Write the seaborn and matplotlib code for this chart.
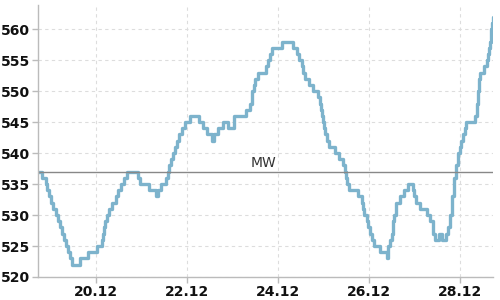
import matplotlib
matplotlib.use("Agg")
import matplotlib.pyplot as plt
import seaborn as sns
import pandas as pd
import numpy as np

# Hours since start of series (start = 18.12 ~17:24) and step values
hours = [0, 2, 4, 5, 6, 7, 8, 9.5, 10.5, 11.5, 12.5, 13.5, 15, 16, 17, 18,
         22, 26.5, 31, 34, 34.5, 35, 35.5, 36.5, 37.5, 39, 41, 42, 44, 45.5,
         47, 53, 54, 58.5, 62, 63.5, 65, 67.5, 68.5, 69, 70, 71, 72.5, 73.5,
         74.5, 76, 77.5, 80, 85, 87, 89, 92, 93, 95, 97.5, 100, 103.5, 109.5,
         112, 113, 114, 114.5, 116, 120.5, 121.5, 122.5, 123.5, 128.5, 134.5,
         136.5, 137.5, 139, 140, 141, 143, 145, 147.5, 149, 149.5, 150, 150.5,
         151, 151.5, 152.5, 153.5, 156.5, 159, 161, 162, 162.5, 163, 164,
         169, 171, 171.5, 172, 173.5, 174, 175, 176, 177, 180.5, 184, 184.5,
         185.5, 186.5, 187.5, 188, 189, 191, 193, 195, 198, 198.5, 199.5,
         201.5, 205, 207, 208.5, 209.5, 211.5, 213, 215, 216.5, 217.5, 218.5,
         219.5, 220.5, 221.5, 222.5, 223, 224, 225, 226, 230.5, 231.5, 232,
         232.5, 233, 235.5, 237, 237.5, 238, 238.5, 239, 239.5, 240]
values = [537, 536, 535, 534, 533, 532, 531, 530, 529, 528, 527, 526, 525,
          524, 523, 522, 523, 524, 525, 526, 527, 528, 529, 530, 531, 532,
          533, 534, 535, 536, 537, 536, 535, 534, 533, 534, 535, 536, 537,
          538, 539, 540, 541, 542, 543, 544, 545, 546, 545, 544, 543, 542,
          543, 544, 545, 544, 546, 547, 548, 550, 551, 552, 553, 554, 555,
          556, 557, 558, 557, 556, 555, 554, 553, 552, 551, 550, 549, 548,
          547, 546, 545, 544, 543, 542, 541, 540, 539, 538, 537, 536, 535,
          534, 533, 532, 531, 530, 529, 528, 527, 526, 525, 524, 523, 525,
          526, 527, 529, 530, 532, 533, 534, 535, 534, 533, 532, 531, 530,
          529, 527, 526, 527, 526, 527, 528, 530, 533, 536, 538, 540, 541,
          542, 543, 544, 545, 546, 548, 550, 552, 553, 554, 555, 556, 557,
          558, 560, 561, 562]

start_day = 18.725  # position of series start, in day units (day-of-December)
mean_value = 537
mean_label = "MW"
tick_days = [20, 22, 24, 26, 28]
tick_labels = ["20.12", "22.12", "24.12", "26.12", "28.12"]
y_ticks = [520, 525, 530, 535, 540, 545, 550, 555, 560]

df = pd.DataFrame({"day": start_day + np.array(hours) / 24.0, "value": values})

sns.set_style("white")
plt.rcParams["font.family"] = ["DejaVu Sans"]

fig = plt.figure(figsize=(5, 3), dpi=100)
ax = fig.add_axes([0.076, 0.0767, 0.91, 0.9066])

ax.grid(True, color="#dddddd", linestyle=(0, (3, 3)), linewidth=0.8)
ax.set_axisbelow(True)

sns.lineplot(data=df, x="day", y="value", ax=ax, drawstyle="steps-post",
             color="#7db3cc", linewidth=2.4, estimator=None, sort=False)

ax.axhline(mean_value, color="#888888", linewidth=1.0)
ax.text(23.69, mean_value + 0.25, mean_label, ha="center", va="bottom",
        fontsize=10, color="#333333")

ax.set_xlim(18.725, 28.725)
ax.set_ylim(520, 563.9)
ax.set_xticks(tick_days)
ax.set_xticklabels(tick_labels, fontweight="bold")
ax.set_yticks(y_ticks)
ax.set_yticklabels([str(v) for v in y_ticks], fontweight="bold")
ax.tick_params(axis="both", labelsize=10, colors="#bbbbbb", labelcolor="#111111",
               length=4, width=1, direction="out", pad=2)
ax.tick_params(left=True, bottom=True)
for s in ["top", "right"]:
    ax.spines[s].set_visible(False)
for s in ["left", "bottom"]:
    ax.spines[s].set_color("#bbbbbb")
    ax.spines[s].set_linewidth(1)
ax.set_xlabel("")
ax.set_ylabel("")

fig.savefig("out.png", dpi=100)
